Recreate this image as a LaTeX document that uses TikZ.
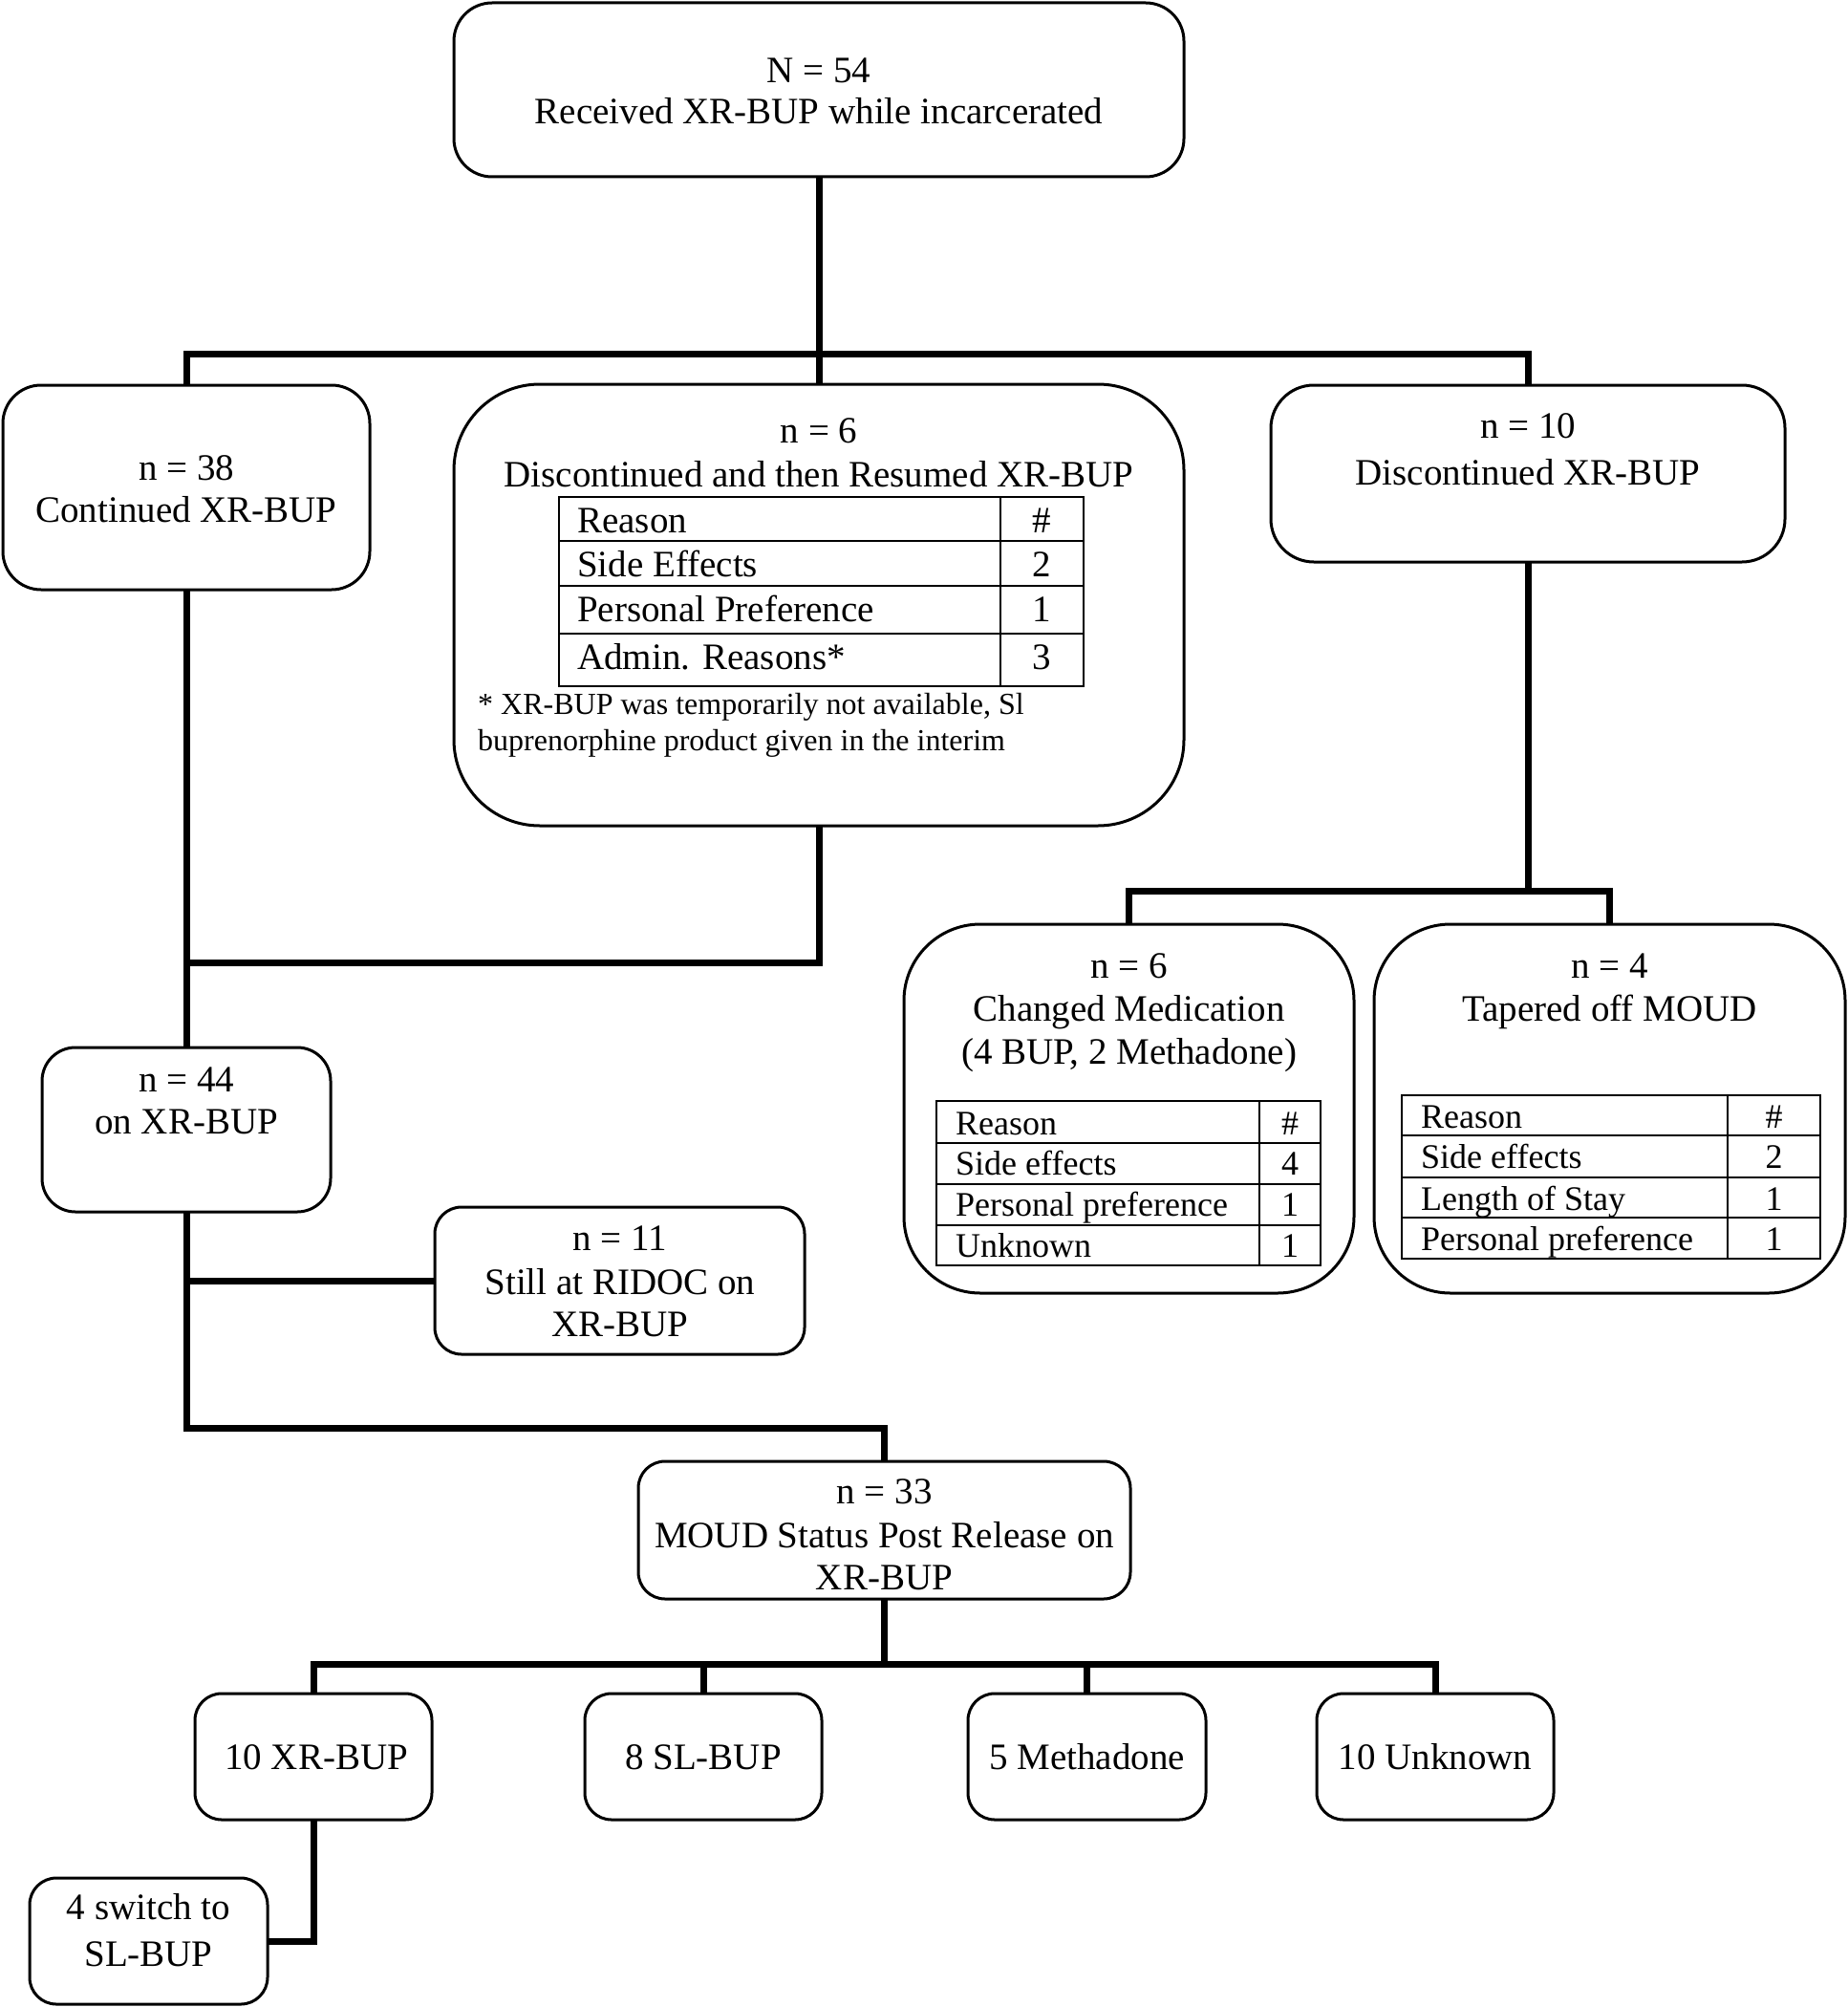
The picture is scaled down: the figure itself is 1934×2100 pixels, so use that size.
\documentclass[tikz,border=0pt]{standalone}
\usepackage{fontspec}
\setmainfont{Liberation Serif}
\tikzset{
  box/.style={draw, line width=3pt, inner sep=0pt, outer sep=0pt, fill=white},
  conn/.style={line width=7pt, line join=miter, line cap=butt},
  tline/.style={line width=2.5pt},
  txt/.style={font=\fontsize{39}{44}\selectfont, inner sep=0pt, anchor=base},
  ttxt/.style={font=\fontsize{39}{44}\selectfont, inner sep=0pt},
  stxt/.style={font=\fontsize{36}{40}\selectfont, inner sep=0pt},
  ftxt/.style={font=\fontsize{32}{36}\selectfont, inner sep=0pt, anchor=base west},
}
\newcommand\mkbox[6]{\node[box, rounded corners=#6pt, minimum width={(#4-#2)*1pt}, minimum height={(#5-#3)*1pt}] (#1) at ({(#2+#4)/2},{(#3+#5)/2}) {};}
% table frame: x0, xd, x1, r0..r4
\newcommand\mktable[8]{\draw[tline] (#1,#4) rectangle (#3,#8);
  \draw[tline] (#1,#5) -- (#3,#5) (#1,#6) -- (#3,#6) (#1,#7) -- (#3,#7) (#2,#4) -- (#2,#8);}
% row text: name, style, x text, x number, baseline, text, number
\newcommand\trow[7]{\node[#2, anchor=base west] (#1a) at (#3,#5) {#6};
  \node[#2, anchor=base] (#1b) at (#4,#5) {#7};}
\begin{document}
\begin{tikzpicture}[x=1pt, y=-1pt]
\useasboundingbox (0,0) rectangle (1934,2100);
% boxes
\mkbox{top}{475}{3}{1239}{185}{40}
\mkbox{b1}{3}{403}{387}{617}{40}
\mkbox{b2}{475}{402}{1239}{864}{90}
\mkbox{b3}{1330}{403}{1868}{588}{45}
\mkbox{b4}{946}{967}{1417}{1353}{80}
\mkbox{b5}{1438}{967}{1931}{1353}{80}
\mkbox{b6}{44}{1096}{346}{1268}{35}
\mkbox{b7}{455}{1263}{842}{1417}{28}
\mkbox{b8}{668}{1529}{1183}{1673}{28}
\mkbox{b9}{204}{1772}{452}{1904}{28}
\mkbox{b10}{612}{1772}{860}{1904}{28}
\mkbox{b11}{1013}{1772}{1262}{1904}{28}
\mkbox{b12}{1378}{1772}{1626}{1904}{28}
\mkbox{b13}{31}{1965}{280}{2097}{28}
% junctions
\coordinate (j1) at (857,370);
\coordinate (j2) at (195,1007);
\coordinate (j3) at (1599,932);
\coordinate (j4) at (195,1340);
\coordinate (j5) at (195,1494);
\coordinate (j6) at (925.5,1741);
% connectors
\draw[conn] (top.south) -- (b2.north);
\draw[conn] (b1.north) |- (j1) -| (b3.north);
\draw[conn] (b1.south) -- (b6.north);
\draw[conn] (b2.south) |- (j2);
\draw[conn] (b3.south) -- (j3);
\draw[conn] (b4.north) |- (j3) -| (b5.north);
\draw[conn] (b6.south) -- (j5) -| (b8.north);
\draw[conn] (j4) -- (b7.west);
\draw[conn] (b8.south) -- (j6);
\draw[conn] (b9.north) |- (j6) -| (b12.north);
\draw[conn] (b10.north) -- (b10.north |- j6);
\draw[conn] (b11.north) -- (b11.north |- j6);
\draw[conn] (b9.south) |- (b13.east);
% texts
\node[txt] (t01) at (857,87) {N = 54};
\node[txt] (t02) at (857,130) {Received XR-BUP while incarcerated};
\node[txt] (t11) at (195,502) {n = 38};
\node[txt] (t12) at (195,546) {Continued XR-BUP};
\node[txt] (t21) at (857,463) {n = 6};
\node[txt] (t22) at (857,509) {Discontinued and then Resumed XR-BUP};
\node[txt] (t31) at (1599,458) {n = 10};
\node[txt] (t32) at (1599,507) {Discontinued XR-BUP};
\node[txt] (t41) at (1181.5,1023) {n = 6};
\node[txt] (t42) at (1181.5,1068) {Changed Medication};
\node[txt] (t43) at (1181.5,1113) {(4 BUP, 2 Methadone)};
\node[txt] (t51) at (1684.5,1023) {n = 4};
\node[txt] (t52) at (1684.5,1068) {Tapered off MOUD};
\node[txt] (t61) at (195,1142) {n = 44};
\node[txt] (t62) at (195,1186) {on XR-BUP};
\node[txt] (t71) at (649,1308) {n = 11};
\node[txt] (t72) at (649,1354) {Still at RIDOC on};
\node[txt] (t73) at (649,1398) {XR-BUP};
\node[txt] (t81) at (925.5,1573) {n = 33};
\node[txt] (t82) at (925.5,1619) {MOUD Status Post Release on};
\node[txt] (t83) at (925.5,1663) {XR-BUP};
\node[txt] (t9) at (331,1851) {10 XR-BUP};
\node[txt] (t10) at (736,1851) {8 SL-BUP};
\node[txt] (t11b) at (1137.5,1851) {5 Methadone};
\node[txt] (t12b) at (1502,1851) {10 Unknown};
\node[txt] (t131) at (155.5,2008) {4 switch to};
\node[txt] (t132) at (155.5,2057) {SL-BUP};
% table in b2
\mktable{585}{1047}{1134}{520}{566}{613}{663}{718}
\trow{ra}{ttxt}{604}{1090.5}{557}{Reason}{\#}
\trow{rb}{ttxt}{604}{1090.5}{603}{Side Effects}{2}
\trow{rc}{ttxt}{604}{1090.5}{650}{Personal Preference}{1}
\trow{rd}{ttxt}{604}{1090.5}{700}{Admin. Reasons*}{3}
\node[ftxt] (f1) at (500,747) {* XR-BUP was temporarily not available, Sl};
\node[ftxt] (f2) at (500,785) {buprenorphine product given in the interim};
% table in b4
\mktable{980}{1318}{1382}{1152}{1196}{1239}{1282}{1324}
\trow{sa}{stxt}{1000}{1350}{1187}{Reason}{\#}
\trow{sb}{stxt}{1000}{1350}{1229}{Side effects}{4}
\trow{sc}{stxt}{1000}{1350}{1272}{Personal preference}{1}
\trow{sd}{stxt}{1000}{1350}{1315}{Unknown}{1}
% table in b5
\mktable{1467}{1808}{1905}{1146}{1188}{1232}{1274}{1317}
\trow{ua}{stxt}{1487}{1856.5}{1180}{Reason}{\#}
\trow{ub}{stxt}{1487}{1856.5}{1222}{Side effects}{2}
\trow{uc}{stxt}{1487}{1856.5}{1266}{Length of Stay}{1}
\trow{ud}{stxt}{1487}{1856.5}{1308}{Personal preference}{1}
\end{tikzpicture}
\end{document}
